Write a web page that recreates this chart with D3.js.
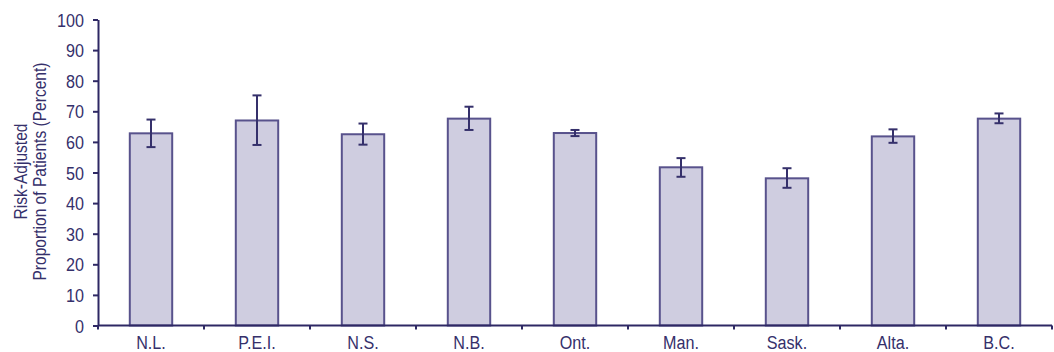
<!DOCTYPE html>
<html>
<head>
<meta charset="utf-8">
<script src="https://cdn.jsdelivr.net/npm/d3@7"></script>
<style>
  html, body { margin: 0; padding: 0; background: #ffffff; }
  svg { display: block; }
  text { font-family: "Liberation Sans", Arial, sans-serif; fill: #35306b; }
</style>
</head>
<body>
<svg id="chart" width="1054" height="352"></svg>
<script>
// Provinces shown along the x axis
const provinces = ["N.L.", "P.E.I.", "N.S.", "N.B.", "Ont.", "Man.", "Sask.", "Alta.", "B.C."];
// Risk-adjusted proportion of patients (percent)
const rates = [62.8, 67.0, 62.5, 67.6, 62.9, 51.7, 48.1, 61.8, 67.6];
// 95% confidence interval bounds
const lowerCI = [58.3, 59.0, 59.1, 63.9, 61.9, 48.6, 45.0, 59.7, 66.1];
const upperCI = [67.3, 75.2, 66.0, 71.5, 63.9, 54.7, 51.4, 64.1, 69.3];
// Y axis tick values
const yTicks = [0, 10, 20, 30, 40, 50, 60, 70, 80, 90, 100];

const margin = { top: 19.5, right: 2, bottom: 26.5, left: 98 };
const W = 1054, H = 352;
const innerW = W - margin.left - margin.right;
const innerH = H - margin.top - margin.bottom;

// Condensed lettering: regular sans squeezed horizontally
const squeeze = 0.85;
const titleSqueeze = 0.82;
const fontPx = 19;

const svg = d3.select("#chart");
const g = svg.append("g").attr("transform", `translate(${margin.left},${margin.top})`);

const x = d3.scaleBand().domain(provinces).range([0, innerW]).paddingInner(0.6).paddingOuter(0.3);
const xb = d3.scaleBand().domain(provinces).range([0, innerW]);
const y = d3.scaleLinear().domain([0, 100]).range([innerH, 0]);

const axisColor = "#2e2864";
const data = provinces.map((p, i) => ({ p, v: rates[i], lo: lowerCI[i], hi: upperCI[i] }));

// Bars
g.selectAll("rect.bar").data(data).enter().append("rect")
  .attr("class", "bar")
  .attr("x", d => x(d.p))
  .attr("y", d => y(d.v))
  .attr("width", x.bandwidth())
  .attr("height", d => y(0) - y(d.v))
  .attr("fill", "#cfcde0")
  .attr("stroke", "#58528c")
  .attr("stroke-width", 2);

// Error bars
const cap = 4.5;
const eb = g.selectAll("g.err").data(data).enter().append("g").attr("class", "err")
  .attr("transform", d => `translate(${x(d.p) + x.bandwidth() / 2},0)`)
  .attr("stroke", "#35306b").attr("stroke-width", 2).attr("fill", "none");
eb.append("line").attr("x1", 0).attr("x2", 0).attr("y1", d => y(d.hi)).attr("y2", d => y(d.lo));
eb.append("line").attr("x1", -cap).attr("x2", cap).attr("y1", d => y(d.hi)).attr("y2", d => y(d.hi));
eb.append("line").attr("x1", -cap).attr("x2", cap).attr("y1", d => y(d.lo)).attr("y2", d => y(d.lo));

// Y axis
const yAxis = g.append("g")
  .call(d3.axisLeft(y).tickValues(yTicks).tickSize(5).tickPadding(8).tickSizeOuter(0));
yAxis.select(".domain").attr("stroke", axisColor).attr("stroke-width", 2);
yAxis.selectAll(".tick line").attr("stroke", axisColor).attr("stroke-width", 2);
yAxis.selectAll(".tick text")
  .attr("font-size", fontPx)
  .style("font-family", null)
  .attr("fill", "#35306b")
  .attr("x", -14 / squeeze)
  .attr("dy", "0.35em")
  .attr("transform", `scale(${squeeze},1)`);

// X axis: ticks sit at category boundaries
const xAxisG = g.append("g").attr("transform", `translate(0,${innerH})`);
xAxisG.append("line").attr("x1", 0).attr("x2", innerW).attr("stroke", axisColor).attr("stroke-width", 2);
const bounds = provinces.map(p => xb(p)).concat([innerW]);
xAxisG.selectAll("line.tk").data(bounds).enter().append("line")
  .attr("class", "tk")
  .attr("x1", d => d).attr("x2", d => d).attr("y1", 0).attr("y2", 4)
  .attr("stroke", axisColor).attr("stroke-width", 2);
xAxisG.selectAll("text").data(provinces).enter().append("text")
  .attr("transform", d => `translate(${xb(d) + xb.bandwidth() / 2},23) scale(${squeeze},1)`)
  .attr("text-anchor", "middle")
  .attr("font-size", fontPx)
  .text(d => d);

// Y axis title (two lines)
const title = svg.append("text")
  .attr("transform", `translate(26.5,${margin.top + innerH / 2 - 1}) rotate(-90) scale(${titleSqueeze},1)`)
  .attr("text-anchor", "middle")
  .attr("font-size", fontPx);
title.append("tspan").attr("x", 0).attr("dy", 0).text("Risk-Adjusted");
title.append("tspan").attr("x", 0).attr("dy", 19.5).text("Proportion of Patients (Percent)");
</script>
</body>
</html>
